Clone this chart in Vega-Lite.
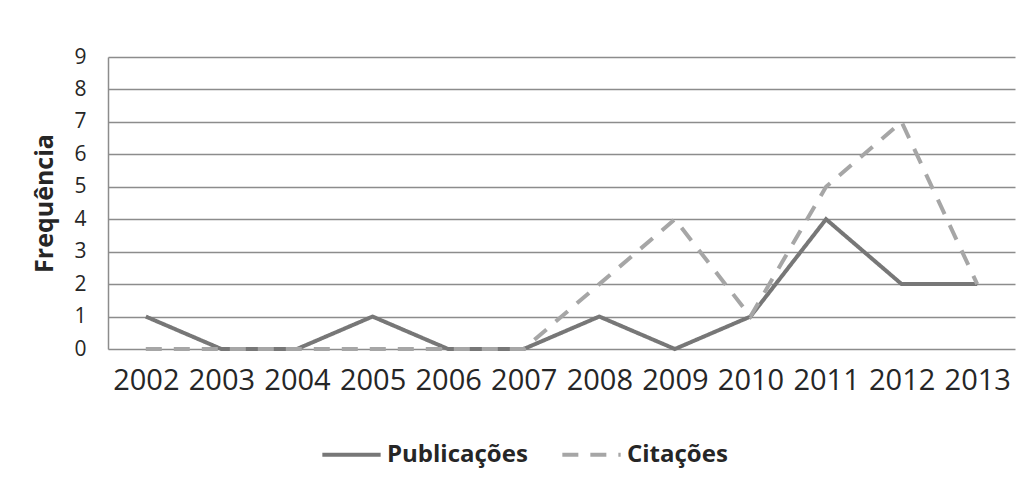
{
  "$schema": "https://vega.github.io/schema/vega-lite/v6.json",
  "autosize": {"type": "none"},
  "width": 907,
  "height": 292,
  "padding": {"left": 108, "top": 57, "right": 7, "bottom": 133},
  "background": "white",
  "data": {"values": [
    {"ano": "2002", "serie": "Publicações", "valor": 1},
    {"ano": "2003", "serie": "Publicações", "valor": 0},
    {"ano": "2004", "serie": "Publicações", "valor": 0},
    {"ano": "2005", "serie": "Publicações", "valor": 1},
    {"ano": "2006", "serie": "Publicações", "valor": 0},
    {"ano": "2007", "serie": "Publicações", "valor": 0},
    {"ano": "2008", "serie": "Publicações", "valor": 1},
    {"ano": "2009", "serie": "Publicações", "valor": 0},
    {"ano": "2010", "serie": "Publicações", "valor": 1},
    {"ano": "2011", "serie": "Publicações", "valor": 4},
    {"ano": "2012", "serie": "Publicações", "valor": 2},
    {"ano": "2013", "serie": "Publicações", "valor": 2},
    {"ano": "2002", "serie": "Citações", "valor": 0},
    {"ano": "2003", "serie": "Citações", "valor": 0},
    {"ano": "2004", "serie": "Citações", "valor": 0},
    {"ano": "2005", "serie": "Citações", "valor": 0},
    {"ano": "2006", "serie": "Citações", "valor": 0},
    {"ano": "2007", "serie": "Citações", "valor": 0},
    {"ano": "2008", "serie": "Citações", "valor": 2},
    {"ano": "2009", "serie": "Citações", "valor": 4},
    {"ano": "2010", "serie": "Citações", "valor": 1},
    {"ano": "2011", "serie": "Citações", "valor": 5},
    {"ano": "2012", "serie": "Citações", "valor": 7},
    {"ano": "2013", "serie": "Citações", "valor": 2}
  ]},
  "mark": {"type": "line", "strokeWidth": 4, "strokeCap": "butt", "strokeJoin": "miter"},
  "encoding": {
    "x": {
      "field": "ano", "type": "ordinal",
      "scale": {"type": "point", "padding": 0.5},
      "axis": {"title": null, "labelAngle": 0, "labelFontSize": 29, "labelFont": "Open Sans", "labelColor": "#262626", "labelPadding": 17, "ticks": false, "domain": false, "grid": false}
    },
    "y": {
      "field": "valor", "type": "quantitative",
      "scale": {"domain": [0, 9], "nice": false},
      "axis": {"title": "Frequência", "values": [0,1,2,3,4,5,6,7,8,9], "labelFontSize": 21, "labelFont": "Open Sans", "labelColor": "#262626", "labelPadding": 22, "ticks": false, "domain": true, "domainColor": "#8c8c8c", "domainWidth": 1.5, "grid": true, "gridColor": "#8c8c8c", "gridWidth": 1.5, "titleFont": "Open Sans", "titleFontSize": 25, "titleFontWeight": "bold", "titleColor": "#262626", "titlePadding": 16}
    },
    "color": {
      "field": "serie", "type": "nominal",
      "scale": {"domain": ["Publicações", "Citações"], "range": ["#777777", "#a6a6a6"]},
      "legend": {"title": null, "orient": "none", "legendX": 212, "legendY": 366, "direction": "horizontal", "symbolType": "stroke", "symbolSize": 3400, "symbolStrokeWidth": 4, "labelFont": "Open Sans", "labelFontSize": 24, "labelFontWeight": "bold", "labelColor": "#262626", "columnPadding": 26, "labelOffset": 4, "labelLimit": 300}
    },
    "strokeDash": {
      "field": "serie", "type": "nominal",
      "scale": {"domain": ["Publicações", "Citações"], "range": [[1, 0], [16, 12]]},
      "legend": {"title": null, "orient": "none", "legendX": 212, "legendY": 366, "direction": "horizontal", "symbolType": "stroke", "symbolSize": 3400, "symbolStrokeWidth": 4, "labelFont": "Open Sans", "labelFontSize": 24, "labelFontWeight": "bold", "labelColor": "#262626", "columnPadding": 26, "labelOffset": 4, "labelLimit": 300}
    },
    "order": {"field": "serie", "sort": "descending"}
  },
  "config": {"view": {"stroke": null}}
}
